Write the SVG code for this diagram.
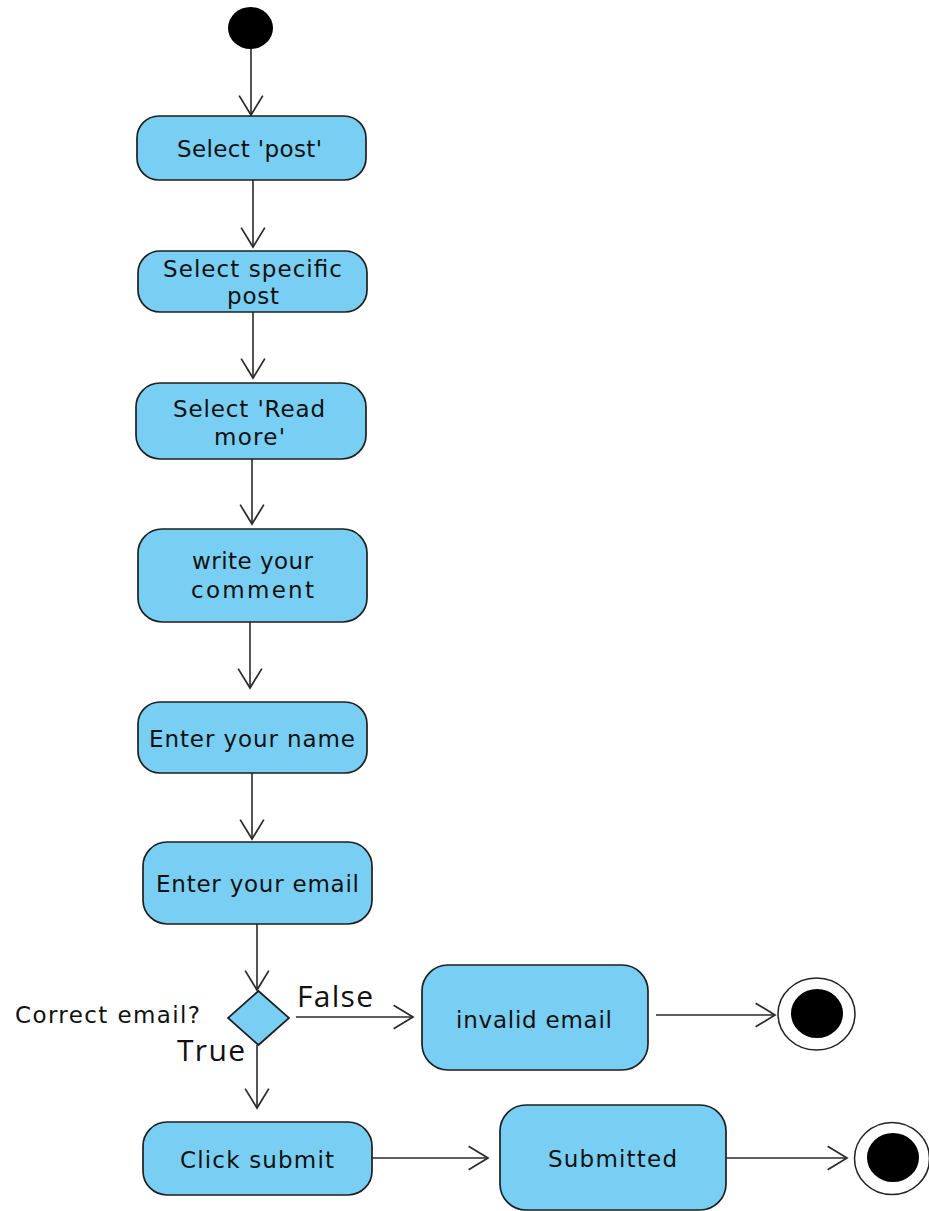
<svg xmlns="http://www.w3.org/2000/svg" width="929" height="1211" viewBox="0 0 929 1211">
<defs>
<style>
.node{fill:#78cff3;stroke:#1e1e1e;stroke-width:1.7}
.lbl{font-family:"DejaVu Sans","Liberation Sans",sans-serif;font-size:23px;fill:#111}
.big{font-family:"Open Sans","Noto Sans",sans-serif;font-size:30px;fill:#111}
.edge{fill:none;stroke:#2a2a2a;stroke-width:1.6;marker-end:url(#arr)}
.dot{fill:#000}
.ring{fill:#fff;stroke:#222;stroke-width:1.5}
</style>
<marker id="arr" markerUnits="userSpaceOnUse" markerWidth="24" markerHeight="28" viewBox="-20 -13 22 26" refX="0" refY="0" orient="auto">
<path d="M-18,-11 L0,0 L-18,11" fill="none" stroke="#2a2a2a" stroke-width="1.6"/>
</marker>
</defs>
<rect width="929" height="1211" fill="#fff"/>
<g id="connectors">
<line class="edge" x1="251" y1="49" x2="251" y2="115"/>
<line class="edge" x1="253" y1="180" x2="253" y2="247"/>
<line class="edge" x1="253" y1="312" x2="253" y2="378"/>
<line class="edge" x1="252" y1="459" x2="252" y2="524"/>
<line class="edge" x1="250" y1="622" x2="250" y2="688"/>
<line class="edge" x1="252" y1="773" x2="252" y2="839"/>
<line class="edge" x1="257" y1="924" x2="257" y2="990"/>
<line class="edge" x1="296" y1="1017" x2="413" y2="1017"/>
<line class="edge" x1="257" y1="1045" x2="257" y2="1108"/>
<line class="edge" x1="656" y1="1015" x2="775" y2="1015"/>
<line class="edge" x1="372" y1="1158" x2="488" y2="1158"/>
<line class="edge" x1="726" y1="1158" x2="847" y2="1158"/>
</g>
<g id="start"><ellipse class="dot" cx="250.5" cy="28" rx="22.5" ry="21"/></g>
<g id="select-post">
<rect class="node" x="137" y="116" width="229" height="64" rx="22"/>
<text class="lbl" x="177" y="157" textLength="145">Select 'post'</text>
</g>
<g id="select-specific-post">
<rect class="node" x="138" y="251" width="229" height="61" rx="22"/>
<text class="lbl" x="163" y="277" textLength="179">Select specific</text>
<text class="lbl" x="227" y="304" textLength="52">post</text>
</g>
<g id="select-read-more">
<rect class="node" x="136" y="383" width="230" height="76" rx="24"/>
<text class="lbl" x="173" y="417" textLength="152">Select 'Read</text>
<text class="lbl" x="214" y="445" textLength="71">more'</text>
</g>
<g id="write-comment">
<rect class="node" x="138" y="529" width="229" height="93" rx="24"/>
<text class="lbl" x="192" y="569" textLength="121">write your</text>
<text class="lbl" x="191" y="598" textLength="123">comment</text>
</g>
<g id="enter-name">
<rect class="node" x="138" y="702" width="229" height="71" rx="22"/>
<text class="lbl" x="149" y="747" textLength="206">Enter your name</text>
</g>
<g id="enter-email">
<rect class="node" x="143" y="842" width="229" height="82" rx="24"/>
<text class="lbl" x="156" y="892" textLength="203">Enter your email</text>
</g>
<g id="decision">
<polygon class="node" points="258.5,991 289,1018 258.5,1045 228,1018"/>
<text class="lbl" x="15" y="1023" textLength="185">Correct email?</text>
<text class="big" x="297" y="1007" textLength="76">False</text>
<text class="big" x="177" y="1061" textLength="68">True</text>
</g>
<g id="invalid-email">
<rect class="node" x="422" y="965" width="226" height="105" rx="26"/>
<text class="lbl" x="456" y="1028" textLength="156">invalid email</text>
</g>
<g id="end-invalid">
<ellipse class="ring" cx="816.5" cy="1014" rx="38.5" ry="36"/>
<ellipse class="dot" cx="817" cy="1013.5" rx="26" ry="24.5"/>
</g>
<g id="click-submit">
<rect class="node" x="143" y="1122" width="229" height="73" rx="24"/>
<text class="lbl" x="180" y="1168" textLength="154">Click submit</text>
</g>
<g id="submitted">
<rect class="node" x="500" y="1105" width="226" height="105" rx="26"/>
<text class="lbl" x="548" y="1167" textLength="129">Submitted</text>
</g>
<g id="end-submitted">
<ellipse class="ring" cx="892" cy="1158.5" rx="37.5" ry="36"/>
<ellipse class="dot" cx="893" cy="1157.5" rx="26" ry="24.5"/>
</g>
</svg>
